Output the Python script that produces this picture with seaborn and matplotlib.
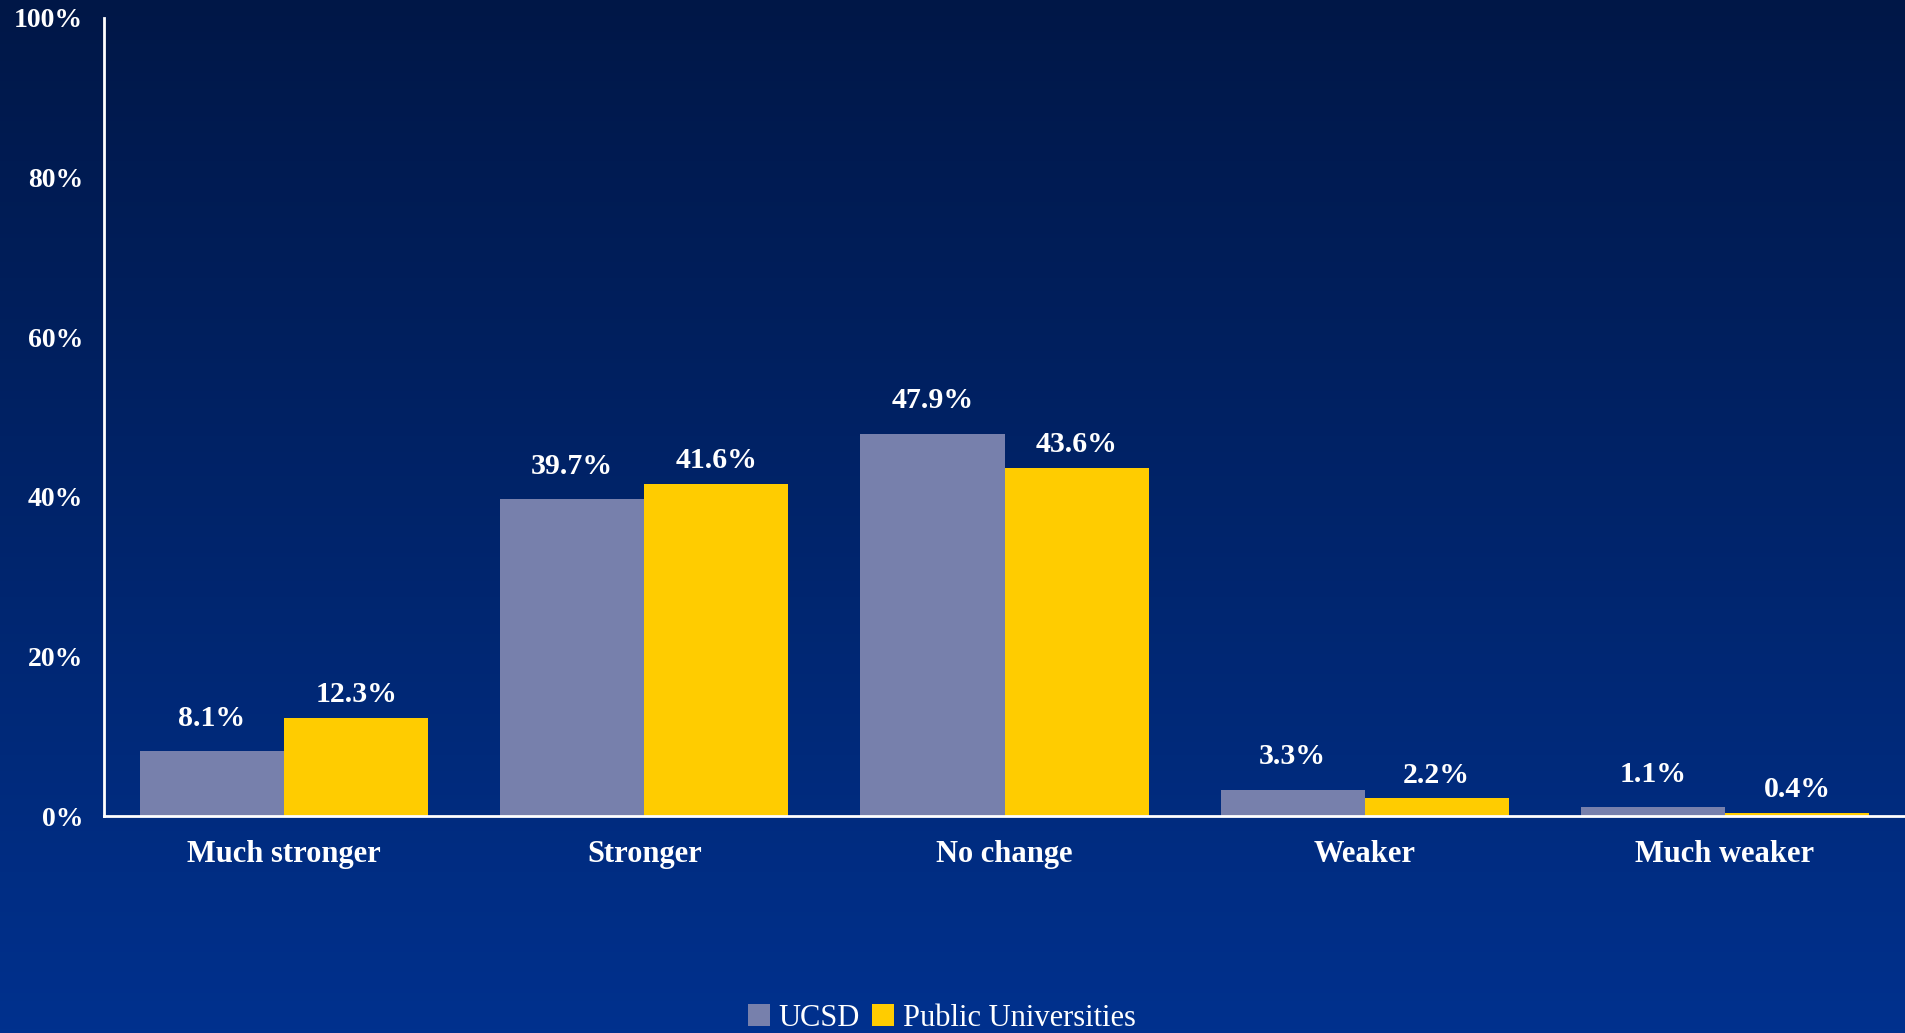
import numpy as np
import pandas as pd
import matplotlib
matplotlib.use("Agg")
import matplotlib.pyplot as plt
from matplotlib.colors import LinearSegmentedColormap
from matplotlib.patches import Patch
import seaborn as sns

categories = ["Much stronger", "Stronger", "No change", "Weaker", "Much weaker"]
series_names = ["UCSD", "Public Universities"]
ucsd = [8.1, 39.7, 47.9, 3.3, 1.1]
public = [12.3, 41.6, 43.6, 2.2, 0.4]
y_ticks = [0, 20, 40, 60, 80, 100]

colors = {"UCSD": "#7780AC", "Public Universities": "#FFCC00"}

df = pd.DataFrame({
    "category": categories * 2,
    "series": [series_names[0]] * len(categories) + [series_names[1]] * len(categories),
    "value": ucsd + public,
})

sns.set_theme(style="white")
plt.rcParams["font.family"] = ["Liberation Serif", "DejaVu Serif"]

fig = plt.figure(figsize=(19.05, 10.33), dpi=100)

# gradient background
bg = fig.add_axes([0, 0, 1, 1], zorder=0)
cmap = LinearSegmentedColormap.from_list("bg", ["#001747", "#00318E"])
grad = np.linspace(0, 1, 256).reshape(-1, 1)
bg.imshow(grad, aspect="auto", cmap=cmap, extent=[0, 1, 0, 1], origin="upper")
bg.axis("off")

W, H = 1905, 1033
left, right, top, bottom = 104, 1905, 18, 816
ax = fig.add_axes([left / W, 1 - bottom / H, (right - left) / W, (bottom - top) / H], zorder=1)
ax.patch.set_alpha(0)

sns.barplot(data=df, x="category", y="value", hue="series", order=categories,
            hue_order=series_names, palette=colors, width=0.8, saturation=1,
            ax=ax, legend=False, edgecolor="none", linewidth=0)

ax.set_xlim(-0.5, 4.5)
ax.set_ylim(0, 100)
ax.set_yticks(y_ticks)
ax.set_yticklabels([f"{t}%" for t in y_ticks])
ax.set_xlabel("")
ax.set_ylabel("")
for s in ["top", "right"]:
    ax.spines[s].set_visible(False)
for s in ["left", "bottom"]:
    ax.spines[s].set_color("white")
    ax.spines[s].set_linewidth(2)
ax.tick_params(axis="both", length=0, colors="white")
ax.tick_params(axis="y", pad=15)
ax.tick_params(axis="x", pad=17)
for lab in ax.get_yticklabels():
    lab.set_fontsize(20)
    lab.set_fontweight("bold")
    lab.set_color("white")
for lab in ax.get_xticklabels():
    lab.set_fontsize(22)
    lab.set_fontweight("bold")
    lab.set_color("white")

offsets = {"UCSD": 14, "Public Universities": 7}
for cont, name in zip(ax.containers, series_names):
    labels = [f"{v:.1f}%" for v in cont.datavalues]
    ax.bar_label(cont, labels=labels, padding=offsets[name], color="white",
                 fontsize=21.5, fontweight="bold")

handles = [Patch(facecolor=colors[n], edgecolor="none", label=n) for n in series_names]
leg = fig.legend(handles=handles, loc="center", bbox_to_anchor=(942 / W, 1 - 1018 / H),
                 ncol=2, frameon=False, handlelength=0.7, handleheight=0.7,
                 handletextpad=0.3, columnspacing=0.4, fontsize=22)
for t in leg.get_texts():
    t.set_color("white")

fig.savefig("out.png", dpi=100)
